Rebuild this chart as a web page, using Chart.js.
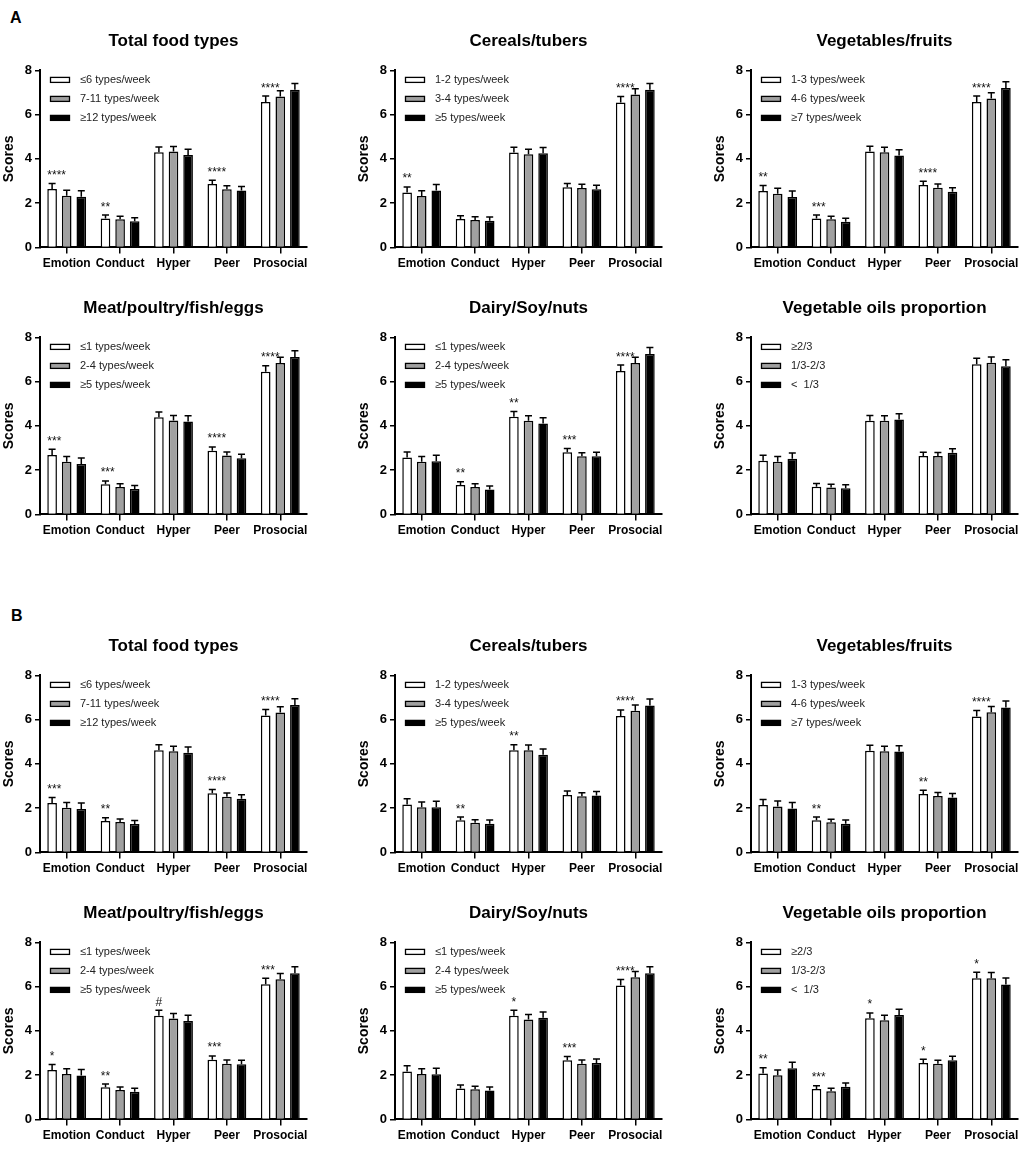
<!DOCTYPE html>
<html>
<head>
<meta charset="utf-8">
<script src="https://cdn.jsdelivr.net/npm/chart.js@4.4.0/dist/chart.umd.min.js"></script>
<style>
  body { margin: 0; background: #fff; width: 1021px; height: 1153px; overflow: hidden; position: relative;
         font-family: "Liberation Sans", Arial, sans-serif; }
  .panel { position: absolute; }
  .tag { position: absolute; font-weight: bold; font-size: 16px; line-height: normal; }
</style>
</head>
<body>
<div class="tag" style="left:10px;top:9px">A</div>
<div class="tag" style="left:11px;top:607px">B</div>
<div id="wrap"></div>
<script>
// categories (SDQ subscales)
var categories = ['Emotion', 'Conduct', 'Hyper', 'Peer', 'Prosocial'];

// legend labels
var totalLabels  = ['≤6 types/week', '7-11 types/week', '≥12 types/week'];
var cerealLabels = ['1-2 types/week', '3-4 types/week', '≥5 types/week'];
var vegLabels    = ['1-3 types/week', '4-6 types/week', '≥7 types/week'];
var meatLabels   = ['≤1 types/week', '2-4 types/week', '≥5 types/week'];
var dairyLabels  = ['≤1 types/week', '2-4 types/week', '≥5 types/week'];
var oilLabels    = ['≥2/3', '1/3-2/3', '<  1/3'];

// error bar sizes (upper SE)
var errWhite = [0.25, 0.15, 0.24, 0.17, 0.27];
var errGrey  = [0.24, 0.14, 0.23, 0.16, 0.26];
var errBlack = [0.27, 0.16, 0.26, 0.18, 0.29];

// panel A : [low, mid, high] per category
var aTotal  = [[2.64, 1.31, 4.30, 2.87, 6.57], [2.34, 1.27, 4.33, 2.63, 6.82], [2.29, 1.18, 4.18, 2.57, 7.12]];
var aCereal = [[2.48, 1.28, 4.29, 2.72, 6.55], [2.32, 1.24, 4.21, 2.69, 6.91], [2.57, 1.21, 4.26, 2.63, 7.12]];
var aVeg    = [[2.55, 1.31, 4.33, 2.82, 6.57], [2.43, 1.27, 4.30, 2.70, 6.73], [2.28, 1.16, 4.15, 2.52, 7.20]];
var aMeat   = [[2.69, 1.36, 4.39, 2.88, 6.45], [2.38, 1.24, 4.24, 2.66, 6.84], [2.28, 1.15, 4.20, 2.54, 7.11]];
var aDairy  = [[2.57, 1.33, 4.41, 2.81, 6.48], [2.38, 1.24, 4.23, 2.63, 6.84], [2.40, 1.12, 4.11, 2.63, 7.25]];
var aOil    = [[2.42, 1.25, 4.23, 2.64, 6.79], [2.38, 1.22, 4.23, 2.64, 6.85], [2.51, 1.18, 4.29, 2.79, 6.70]];

var aTotalStars  = ['****', '**', '', '****', '****'];
var aCerealStars = ['**', '', '', '', '****'];
var aVegStars    = ['**', '***', '', '****', '****'];
var aMeatStars   = ['***', '***', '', '****', '****'];
var aDairyStars  = ['', '**', '**', '***', '****'];
var aOilStars    = ['', '', '', '', ''];

// panel B
var bTotal  = [[2.23, 1.42, 4.62, 2.67, 6.19], [2.02, 1.37, 4.57, 2.52, 6.32], [1.96, 1.28, 4.50, 2.43, 6.66]];
var bCereal = [[2.17, 1.45, 4.62, 2.60, 6.17], [2.04, 1.34, 4.62, 2.54, 6.40], [2.04, 1.30, 4.41, 2.57, 6.64]];
var bVeg    = [[2.14, 1.45, 4.60, 2.64, 6.14], [2.08, 1.36, 4.57, 2.55, 6.34], [1.98, 1.30, 4.56, 2.48, 6.55]];
var bMeat   = [[2.23, 1.45, 4.69, 2.70, 6.11], [2.05, 1.33, 4.56, 2.52, 6.34], [1.98, 1.25, 4.45, 2.49, 6.61]];
var bDairy  = [[2.17, 1.40, 4.69, 2.67, 6.05], [2.05, 1.36, 4.51, 2.52, 6.42], [2.04, 1.31, 4.59, 2.55, 6.61]];
var bOil    = [[2.08, 1.37, 4.57, 2.55, 6.38], [1.99, 1.27, 4.48, 2.51, 6.38], [2.31, 1.48, 4.72, 2.67, 6.10]];

var bTotalStars  = ['***', '**', '', '****', '****'];
var bCerealStars = ['', '**', '**', '', '****'];
var bVegStars    = ['', '**', '', '**', '****'];
var bMeatStars   = ['*', '**', '#', '***', '***'];
var bDairyStars  = ['', '', '*', '***', '****'];
var bOilStars    = ['**', '***', '*', '*', '*'];

var FONT = '"Liberation Sans", Arial, sans-serif';
Chart.defaults.font.family = FONT;
Chart.defaults.color = '#000';

var fills = ['#ffffff', '#a0a0a0', '#000000'];
var errs = [errWhite, errGrey, errBlack];

var colAxis = [40, 395, 751];        // x of the y axis line
var rowTop = [70, 337.7, 675.3, 942.7]; // y of the "8" tick

// error bars, significance marks and the in-plot legend
var extras = {
  id: 'extras',
  afterDatasetsDraw: function (chart, args, opts) {
    var ctx = chart.ctx, y = chart.scales.y, area = chart.chartArea;
    ctx.save();
    chart.data.datasets.forEach(function (ds, k) {
      var meta = chart.getDatasetMeta(k);
      meta.data.forEach(function (bar, i) {
        var top = y.getPixelForValue(ds.data[i] + ds.errors[i]);
        ctx.strokeStyle = '#000';
        ctx.lineWidth = 1.5;
        ctx.beginPath();
        ctx.moveTo(bar.x, bar.y);
        ctx.lineTo(bar.x, top);
        ctx.moveTo(bar.x - 3.5, top);
        ctx.lineTo(bar.x + 3.5, top);
        ctx.stroke();
        if (k === 0 && opts.stars[i]) {
          ctx.font = '12px ' + FONT;
          ctx.fillStyle = '#111';
          ctx.textAlign = 'left';
          ctx.textBaseline = 'alphabetic';
          var w = ctx.measureText(opts.stars[i]).width;
          var sx = Math.max(bar.x - w / 2, bar.x - bar.width / 2);
          ctx.fillText(opts.stars[i], sx, top - 4.5);
        }
      });
    });
    // legend
    opts.labels.forEach(function (lab, k) {
      var cy = area.top + 9.5 + 19 * k;
      ctx.fillStyle = fills[k];
      ctx.fillRect(area.left + 10.5, cy - 2.5, 19, 5);
      ctx.strokeStyle = '#000';
      ctx.lineWidth = 1.3;
      ctx.strokeRect(area.left + 10.5, cy - 2.5, 19, 5);
      ctx.font = '11px ' + FONT;
      ctx.fillStyle = '#222';
      ctx.textAlign = 'left';
      ctx.textBaseline = 'middle';
      ctx.fillText(lab, area.left + 40, cy);
    });
    ctx.restore();
  }
};

var panels = [
  [0, 0, 'Total food types', aTotal, aTotalStars, totalLabels],
  [0, 1, 'Cereals/tubers', aCereal, aCerealStars, cerealLabels],
  [0, 2, 'Vegetables/fruits', aVeg, aVegStars, vegLabels],
  [1, 0, 'Meat/poultry/fish/eggs', aMeat, aMeatStars, meatLabels],
  [1, 1, 'Dairy/Soy/nuts', aDairy, aDairyStars, dairyLabels],
  [1, 2, 'Vegetable oils proportion', aOil, aOilStars, oilLabels],
  [2, 0, 'Total food types', bTotal, bTotalStars, totalLabels],
  [2, 1, 'Cereals/tubers', bCereal, bCerealStars, cerealLabels],
  [2, 2, 'Vegetables/fruits', bVeg, bVegStars, vegLabels],
  [3, 0, 'Meat/poultry/fish/eggs', bMeat, bMeatStars, meatLabels],
  [3, 1, 'Dairy/Soy/nuts', bDairy, bDairyStars, dairyLabels],
  [3, 2, 'Vegetable oils proportion', bOil, bOilStars, oilLabels]
];

var wrap = document.getElementById('wrap');

panels.forEach(function (p) {
  var div = document.createElement('div');
  div.className = 'panel';
  div.style.left = (colAxis[p[1]] - 39) + 'px';
  div.style.top = (rowTop[p[0]] - 45.4) + 'px';
  var canvas = document.createElement('canvas');
  canvas.width = 308;
  canvas.height = 250;
  div.appendChild(canvas);
  wrap.appendChild(div);

  new Chart(canvas.getContext('2d'), {
    type: 'bar',
    data: {
      labels: categories,
      datasets: p[3].map(function (vals, k) {
        return {
          label: p[5][k],
          data: vals,
          errors: errs[k],
          backgroundColor: fills[k],
          borderColor: '#000',
          borderWidth: 1.5,
          barPercentage: 0.66,
          categoryPercentage: 0.82
        };
      })
    },
    plugins: [extras],
    options: {
      responsive: false,
      animation: false,
      events: [],
      layout: { padding: { left: 0, right: 2, top: 0, bottom: 0 } },
      plugins: {
        legend: { display: false },
        tooltip: { enabled: false },
        title: {
          display: true,
          text: p[2],
          fullSize: false,
          color: '#000',
          font: { size: 17, weight: 'bold' },
          padding: { top: 6, bottom: 19 }
        },
        extras: { stars: p[4], labels: p[5] }
      },
      scales: {
        x: {
          grid: { display: true, drawOnChartArea: false, offset: false, tickLength: 6, color: '#000', lineWidth: 1.5 },
          border: { display: true, color: '#000', width: 2 },
          ticks: { color: '#000', font: { size: 12, weight: 'bold' }, padding: 3, maxRotation: 0, autoSkip: false },
          afterFit: function (s) { s.height = 27.6; s.paddingLeft = 0; s.paddingRight = 0; }
        },
        y: {
          min: 0,
          max: 8,
          grid: { display: true, drawOnChartArea: false, tickLength: 5, color: '#000', lineWidth: 1.5 },
          border: { display: true, color: '#000', width: 2 },
          ticks: { stepSize: 2, color: '#000', font: { size: 13, weight: 'bold' }, padding: 3 },
          title: { display: true, text: 'Scores', color: '#000', font: { size: 14, weight: 'bold' }, padding: 0 },
          afterFit: function (s) { s.width = 39; s.paddingTop = 0; s.paddingBottom = 0; }
        }
      }
    }
  });
});
</script>
</body>
</html>
